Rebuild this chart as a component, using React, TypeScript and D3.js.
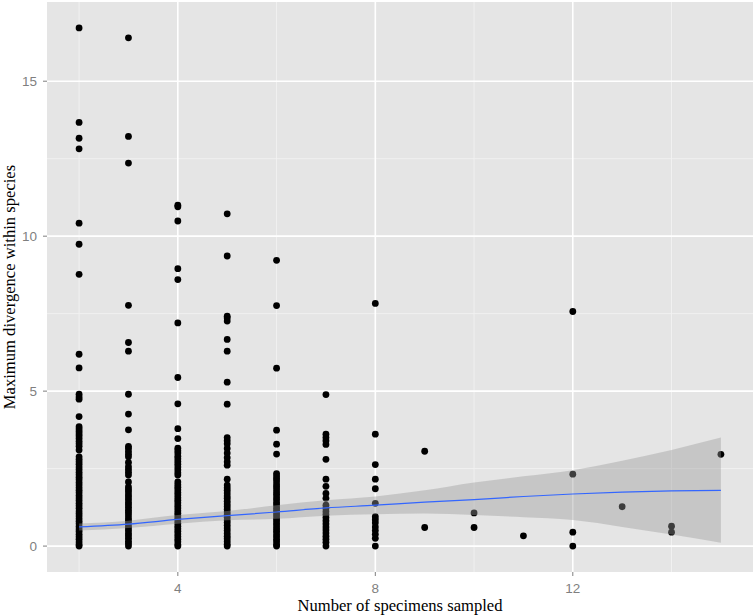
import React from "react";
import * as d3 from "d3";

// ---- data ----
const specimens = [2, 3, 4, 5, 6, 7, 8, 9, 10, 11, 12, 13, 14, 15];

const div2 = [16.72, 13.67, 13.16, 12.82, 10.42, 9.74, 8.77, 6.19, 5.75, 4.9, 4.81, 4.74, 4.18, 3.85, 3.78, 3.7, 3.62, 3.55, 3.47, 3.38, 3.3, 3.22, 3.1, 2.88, 2.8, 2.72, 2.64, 2.55, 2.47, 2.38, 2.3, 2.22, 2.14, 2.05, 1.97, 1.88, 1.8, 1.72, 1.63, 1.55, 1.47, 1.38, 1.3, 1.22, 1.13, 1.05, 0.97, 0.88, 0.8, 0.72, 0.63, 0.55, 0.47, 0.38, 0.3, 0.22, 0.13, 0.05, 0.0];
const div3 = [16.4, 13.22, 12.36, 7.77, 6.57, 6.29, 4.9, 4.26, 3.75, 3.22, 3.15, 3.05, 2.96, 2.88, 2.7, 2.56, 2.47, 2.38, 2.29, 2.07, 1.91, 1.83, 1.75, 1.66, 1.58, 1.5, 1.41, 1.33, 1.25, 1.16, 1.08, 1.0, 0.91, 0.83, 0.75, 0.66, 0.58, 0.5, 0.41, 0.33, 0.25, 0.16, 0.08, 0.0];
const div4 = [11.0, 10.95, 10.49, 8.95, 8.6, 7.2, 5.44, 4.59, 3.79, 3.47, 3.16, 3.08, 3.0, 2.9, 2.82, 2.73, 2.64, 2.55, 2.46, 2.37, 2.29, 2.07, 1.98, 1.9, 1.82, 1.73, 1.65, 1.56, 1.48, 1.4, 1.31, 1.23, 1.14, 1.06, 0.98, 0.9, 0.81, 0.73, 0.64, 0.56, 0.48, 0.39, 0.31, 0.22, 0.14, 0.05, 0.0];
const div5 = [10.72, 9.36, 7.42, 7.36, 7.26, 6.67, 6.29, 5.29, 4.58, 3.5, 3.4, 3.3, 3.15, 3.0, 2.85, 2.72, 2.61, 2.16, 1.97, 1.88, 1.8, 1.71, 1.62, 1.54, 1.45, 1.36, 1.28, 1.19, 1.1, 1.02, 0.93, 0.84, 0.76, 0.67, 0.58, 0.5, 0.41, 0.32, 0.24, 0.15, 0.06, 0.0];
const div6 = [9.22, 7.76, 5.74, 3.74, 3.29, 2.97, 2.34, 2.26, 2.18, 2.1, 2.0, 1.92, 1.84, 1.75, 1.67, 1.58, 1.5, 1.41, 1.33, 1.24, 1.16, 1.07, 0.99, 0.9, 0.82, 0.73, 0.65, 0.56, 0.48, 0.39, 0.31, 0.22, 0.14, 0.05, 0.0];
const div7 = [4.89, 3.61, 3.5, 3.4, 3.28, 2.8, 2.16, 1.93, 1.7, 1.54, 1.32, 1.22, 1.12, 1.02, 0.92, 0.82, 0.72, 0.62, 0.52, 0.42, 0.32, 0.22, 0.12, 0.0];
const div8 = [7.83, 3.61, 2.63, 2.16, 1.85, 1.38, 0.95, 0.85, 0.75, 0.62, 0.5, 0.38, 0.25, 0.0];
const div9 = [3.06, 0.6];
const div10 = [1.07, 0.6];
const div11 = [0.33];
const div12 = [7.57, 2.32, 0.45, 0.0];
const div13 = [1.27];
const div14 = [0.64, 0.45];
const div15 = [2.96];

// loess fit with confidence band
const smoothFit = [0.62, 0.71, 0.86, 0.98, 1.1, 1.23, 1.32, 1.42, 1.5, 1.6, 1.68, 1.74, 1.78, 1.8];
const smoothUpper = [0.73, 0.82, 1.0, 1.13, 1.32, 1.48, 1.6, 1.8, 2.05, 2.25, 2.45, 2.75, 3.1, 3.5];
const smoothLower = [0.5, 0.58, 0.72, 0.83, 0.88, 0.98, 1.03, 1.05, 1.0, 0.93, 0.84, 0.62, 0.37, 0.11];

const xTicks = [4, 8, 12];
const xMinor = [2, 6, 10, 14];
const yTicks = [0, 5, 10, 15];
const yMinor = [2.5, 7.5, 12.5];

const columns = [div2, div3, div4, div5, div6, div7, div8, div9, div10, div11, div12, div13, div14, div15];

export default function App() {
  const W = 755, H = 616;
  const left = 47, right = 753, top = 2, bottom = 572;

  const points = columns.flatMap((col, i) => col.map((v) => ({ x: specimens[i], y: v })));
  const xMin = 2, xMax = 15;
  const yMin = 0, yMax = d3.max(points, (d) => d.y) as number;
  const xe = (xMax - xMin) * 0.05, ye = (yMax - yMin) * 0.05;

  const x = d3.scaleLinear().domain([xMin - xe, xMax + xe]).range([left, right]);
  const y = d3.scaleLinear().domain([yMin - ye, yMax + ye]).range([bottom, top]);

  const band = specimens.map((s, i) => ({ x: s, lo: smoothLower[i], hi: smoothUpper[i], fit: smoothFit[i] }));
  const area = d3.area<any>().x((d) => x(d.x)).y0((d) => y(d.lo)).y1((d) => y(d.hi)).curve(d3.curveMonotoneX);
  const line = d3.line<any>().x((d) => x(d.x)).y((d) => y(d.fit)).curve(d3.curveMonotoneX);

  const tickColor = "#7F7F7F";
  const sans = "Liberation Sans, Arial, sans-serif";
  const serif = "Liberation Serif, Times New Roman, serif";

  return (
    <svg width={W} height={H} style={{ position: "absolute", left: 0, top: 0, background: "#fff" }}>
      <rect x={left} y={top} width={right - left} height={bottom - top} fill="#E5E5E5" />
      {yMinor.map((t) => (
        <line key={"ym" + t} x1={left} x2={right} y1={y(t)} y2={y(t)} stroke="#F2F2F2" strokeWidth={0.9} />
      ))}
      {xMinor.map((t) => (
        <line key={"xm" + t} x1={x(t)} x2={x(t)} y1={top} y2={bottom} stroke="#F2F2F2" strokeWidth={0.9} />
      ))}
      {yTicks.map((t) => (
        <line key={"yM" + t} x1={left} x2={right} y1={y(t)} y2={y(t)} stroke="#FFFFFF" strokeWidth={1.6} />
      ))}
      {xTicks.map((t) => (
        <line key={"xM" + t} x1={x(t)} x2={x(t)} y1={top} y2={bottom} stroke="#FFFFFF" strokeWidth={1.6} />
      ))}

      {points.map((p, i) => (
        <circle key={i} cx={x(p.x)} cy={y(p.y)} r={3.4} fill="#000" />
      ))}

      <path d={area(band) as string} fill="#999999" fillOpacity={0.4} />
      <path d={line(band) as string} fill="none" stroke="#3366FF" strokeWidth={1.2} />

      {yTicks.map((t) => (
        <g key={"yt" + t}>
          <line x1={left - 4} x2={left} y1={y(t)} y2={y(t)} stroke={tickColor} strokeWidth={1} />
          <text x={left - 10} y={y(t)} dy="0.35em" textAnchor="end" fontFamily={sans} fontSize={13.5} fill={tickColor}>
            {t}
          </text>
        </g>
      ))}
      {xTicks.map((t) => (
        <g key={"xt" + t}>
          <line x1={x(t)} x2={x(t)} y1={bottom} y2={bottom + 4} stroke={tickColor} strokeWidth={1} />
          <text x={x(t)} y={bottom + 16} dy="0.35em" textAnchor="middle" fontFamily={sans} fontSize={13.5} fill={tickColor}>
            {t}
          </text>
        </g>
      ))}

      <text x={(left + right) / 2} y={611} textAnchor="middle" fontFamily={serif} fontSize={16.6} fill="#000">
        Number of specimens sampled
      </text>
      <text
        transform={`translate(15, ${(top + bottom) / 2}) rotate(-90)`}
        textAnchor="middle"
        fontFamily={serif}
        fontSize={16.6}
        fill="#000"
      >
        Maximum divergence within species
      </text>
    </svg>
  );
}
